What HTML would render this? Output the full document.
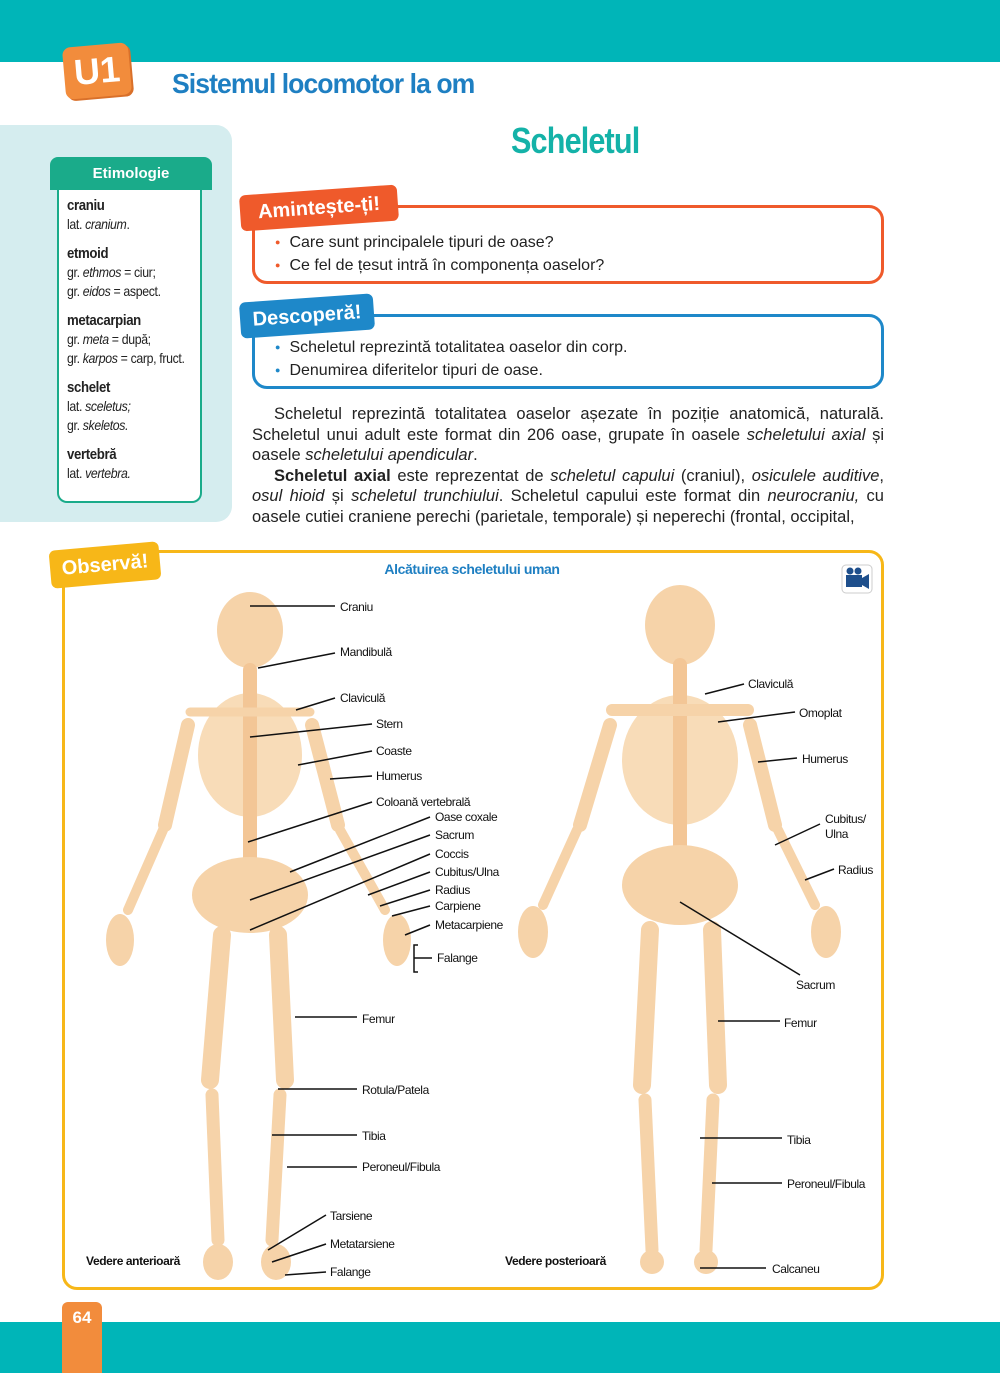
<!DOCTYPE html>
<html><head><meta charset="utf-8"><style>
*{margin:0;padding:0;box-sizing:border-box}
body{width:1000px;height:1373px;position:relative;background:#fff;font-family:"Liberation Sans",sans-serif;overflow:hidden}
.abs{position:absolute}
.cond{font-family:"Liberation Sans Narrow","Liberation Sans",sans-serif}
.ety{font-size:14px;line-height:19px;color:#222;letter-spacing:-0.4px;transform:scaleX(0.88);transform-origin:left top}
.ety b{font-size:15px;display:block}
.ety p{margin-bottom:10px}
.box ul{list-style:none;font-size:16px;line-height:21px;color:#222}
.box li:before{content:"●";font-size:9px;margin-right:9px;position:relative;top:-2px}
.b1 li:before{color:#ef5a2b}.b2 li:before{color:#1e88c9}
.para{font-size:16.5px;line-height:20.6px;color:#222;text-align:justify}
</style></head><body>
<div class="abs" style="left:0;top:0;width:1000px;height:62px;background:#00b5b8"></div>
<div class="abs" style="left:64px;top:45px;width:66px;height:52px;background:#f28c3c;border-radius:8px;transform:rotate(-5deg);color:#fff;font-weight:bold;font-size:36px;text-align:center;line-height:52px;box-shadow:2px 2px 0 #d9702a">U1</div>
<div class="abs cond" style="left:172px;top:68px;font-size:28px;font-weight:bold;color:#1e7fc2;letter-spacing:-1px;transform:scaleX(0.95);transform-origin:left">Sistemul locomotor la om</div>

<div class="abs" style="left:0;top:125px;width:232px;height:397px;background:#d5edef;border-radius:0 16px 16px 0"></div>
<div class="abs" style="left:57px;top:180px;width:145px;height:323px;border:2px solid #1aab8a;border-top:none;border-radius:0 0 10px 10px;background:#fff"></div>
<div class="abs" style="left:50px;top:157px;width:162px;height:33px;background:#1aab8a;border-radius:8px 8px 0 0;color:#fff;font-weight:bold;font-size:15px;text-align:center;line-height:33px">Etimologie</div>
<div class="abs ety cond" style="left:67px;top:196px">
<p><b>craniu</b>lat. <i>cranium</i>.</p>
<p><b>etmoid</b>gr. <i>ethmos</i> = ciur;<br>gr. <i>eidos</i> = aspect.</p>
<p><b>metacarpian</b>gr. <i>meta</i> = după;<br>gr. <i>karpos</i> = carp, fruct.</p>
<p><b>schelet</b>lat. <i>sceletus;</i><br>gr. <i>skeletos.</i></p>
<p><b>vertebră</b>lat. <i>vertebra.</i></p>
</div>

<div class="abs cond" style="left:511px;top:120px;font-size:36px;font-weight:bold;color:#14b2a8;letter-spacing:-1px;transform:scaleX(0.85);transform-origin:left">Scheletul</div>

<div class="abs box b1" style="left:252px;top:205px;width:632px;height:79px;border:3px solid #ef5a2b;border-radius:15px;padding:24px 0 0 20px">
<ul><li>Care sunt principalele tipuri de oase?</li><li>Ce fel de țesut intră în componența oaselor?</li></ul></div>
<div class="abs" style="left:240px;top:190px;width:158px;height:36px;background:#ef5a2b;border-radius:6px;transform:rotate(-4deg);color:#fff;font-weight:bold;font-size:20px;line-height:36px;text-align:center">Amintește-ți!</div>

<div class="abs box b2" style="left:252px;top:314px;width:632px;height:75px;border:3px solid #1e88c9;border-radius:15px;padding:20px 0 0 20px">
<ul><li>Scheletul reprezintă totalitatea oaselor din corp.</li><li>Denumirea diferitelor tipuri de oase.</li></ul></div>
<div class="abs" style="left:240px;top:298px;width:134px;height:36px;background:#1e88c9;border-radius:6px;transform:rotate(-4deg);color:#fff;font-weight:bold;font-size:20px;line-height:36px;text-align:center">Descoperă!</div>

<div class="abs para" style="left:252px;top:404px;width:632px">
<span style="padding-left:22px"></span>Scheletul reprezintă totalitatea oaselor așezate în poziție anatomică, naturală. Scheletul unui adult este format din 206 oase, grupate în oasele <i>scheletului axial</i> și oasele <i>scheletului apendicular</i>.<br>
<span style="padding-left:22px"></span><b>Scheletul axial</b> este reprezentat de <i>scheletul capului</i> (craniul), <i>osiculele auditive</i>, <i>osul hioid</i> și <i>scheletul trunchiului</i>. Scheletul capului este format din <i>neurocraniu,</i> cu oasele cutiei craniene perechi (parietale, temporale) și neperechi (frontal, occipital,
</div>

<div class="abs" style="left:62px;top:550px;width:822px;height:740px;border:3px solid #f7b718;border-radius:15px"></div>
<div class="abs" style="left:50px;top:546px;width:110px;height:38px;background:#f7b718;border-radius:6px;transform:rotate(-5deg);color:#fff;font-weight:bold;font-size:20px;line-height:38px;text-align:center">Observă!</div>

<svg class="abs" style="left:0;top:0" width="1000" height="1373">
<g stroke="#f6d3a9" stroke-linecap="round" fill="#f6d3a9">
<ellipse cx="250" cy="630" rx="33" ry="38" stroke="none"/>
<ellipse cx="250" cy="755" rx="52" ry="62" stroke="none" fill="#f8dcb8"/>
<line x1="250" y1="670" x2="250" y2="880" stroke-width="14" stroke="#f3c696"/>
<ellipse cx="250" cy="895" rx="58" ry="38" stroke="none"/>
<line x1="190" y1="712" x2="310" y2="712" stroke-width="9"/>
<g stroke-width="14"><line x1="188" y1="725" x2="165" y2="825"/><line x1="312" y1="725" x2="338" y2="825"/></g>
<g stroke-width="10"><line x1="163" y1="830" x2="128" y2="910"/><line x1="340" y1="830" x2="385" y2="910"/></g>
<ellipse cx="120" cy="940" rx="14" ry="26" stroke="none"/><ellipse cx="397" cy="940" rx="14" ry="26" stroke="none"/>
<g stroke-width="18"><line x1="222" y1="935" x2="210" y2="1080"/><line x1="278" y1="935" x2="285" y2="1080"/></g>
<g stroke-width="13"><line x1="212" y1="1095" x2="218" y2="1240"/><line x1="280" y1="1095" x2="272" y2="1240"/></g>
<ellipse cx="218" cy="1262" rx="15" ry="18" stroke="none"/><ellipse cx="276" cy="1262" rx="15" ry="18" stroke="none"/>
<ellipse cx="680" cy="625" rx="35" ry="40" stroke="none"/>
<ellipse cx="680" cy="760" rx="58" ry="65" stroke="none" fill="#f8dcb8"/>
<line x1="680" y1="665" x2="680" y2="870" stroke-width="14" stroke="#f3c696"/>
<ellipse cx="680" cy="885" rx="58" ry="40" stroke="none"/>
<line x1="612" y1="710" x2="748" y2="710" stroke-width="12"/>
<g stroke-width="14"><line x1="610" y1="725" x2="580" y2="825"/><line x1="750" y1="725" x2="775" y2="825"/></g>
<g stroke-width="10"><line x1="577" y1="830" x2="543" y2="905"/><line x1="778" y1="830" x2="815" y2="905"/></g>
<ellipse cx="533" cy="932" rx="15" ry="26" stroke="none"/><ellipse cx="826" cy="932" rx="15" ry="26" stroke="none"/>
<g stroke-width="18"><line x1="650" y1="930" x2="642" y2="1085"/><line x1="712" y1="930" x2="718" y2="1085"/></g>
<g stroke-width="13"><line x1="645" y1="1100" x2="652" y2="1250"/><line x1="713" y1="1100" x2="706" y2="1250"/></g>
<ellipse cx="652" cy="1262" rx="12" ry="12" stroke="none"/><ellipse cx="706" cy="1262" rx="12" ry="12" stroke="none"/>
</g>
<g stroke="#111" stroke-width="1.5">
<line x1="250" y1="606" x2="335" y2="606"/><line x1="258" y1="668" x2="335" y2="653"/><line x1="296" y1="710" x2="335" y2="698"/>
<line x1="250" y1="737" x2="372" y2="724"/><line x1="298" y1="765" x2="372" y2="751"/><line x1="330" y1="779" x2="372" y2="776"/>
<line x1="248" y1="842" x2="372" y2="802"/><line x1="290" y1="872" x2="430" y2="817"/><line x1="250" y1="900" x2="430" y2="835"/>
<line x1="250" y1="930" x2="430" y2="854"/><line x1="368" y1="895" x2="430" y2="872"/><line x1="380" y1="906" x2="430" y2="890"/>
<line x1="392" y1="916" x2="430" y2="906"/><line x1="405" y1="935" x2="430" y2="925"/>
<polyline fill="none" points="418,945 414,945 414,972 418,972"/><line x1="414" y1="958" x2="432" y2="958"/>
<line x1="295" y1="1017" x2="357" y2="1017"/><line x1="278" y1="1089" x2="357" y2="1089"/><line x1="272" y1="1135" x2="357" y2="1135"/>
<line x1="287" y1="1167" x2="357" y2="1167"/><line x1="268" y1="1250" x2="326" y2="1215"/><line x1="272" y1="1262" x2="326" y2="1244"/><line x1="285" y1="1275" x2="326" y2="1272"/>
<line x1="705" y1="694" x2="744" y2="684"/><line x1="718" y1="722" x2="795" y2="712"/><line x1="758" y1="762" x2="797" y2="758"/>
<line x1="775" y1="845" x2="820" y2="824"/><line x1="805" y1="880" x2="834" y2="869"/><line x1="680" y1="902" x2="800" y2="975"/>
<line x1="718" y1="1021" x2="780" y2="1021"/><line x1="700" y1="1138" x2="782" y2="1138"/><line x1="712" y1="1183" x2="782" y2="1183"/><line x1="700" y1="1268" x2="766" y2="1268"/>
</g>
<g font-family="Liberation Sans Narrow, Liberation Sans, sans-serif" font-size="12" fill="#111" letter-spacing="-0.4">
<text x="340" y="611">Craniu</text><text x="340" y="656">Mandibulă</text><text x="340" y="702">Claviculă</text>
<text x="376" y="728">Stern</text><text x="376" y="755">Coaste</text><text x="376" y="780">Humerus</text>
<text x="376" y="806">Coloană vertebrală</text><text x="435" y="821">Oase coxale</text><text x="435" y="839">Sacrum</text>
<text x="435" y="858">Coccis</text><text x="435" y="876">Cubitus/Ulna</text><text x="435" y="894">Radius</text>
<text x="435" y="910">Carpiene</text><text x="435" y="929">Metacarpiene</text><text x="437" y="962">Falange</text>
<text x="362" y="1023">Femur</text><text x="362" y="1094">Rotula/Patela</text><text x="362" y="1140">Tibia</text>
<text x="362" y="1171">Peroneul/Fibula</text><text x="330" y="1220">Tarsiene</text><text x="330" y="1248">Metatarsiene</text><text x="330" y="1276">Falange</text>
<text x="748" y="688">Claviculă</text><text x="799" y="717">Omoplat</text><text x="802" y="763">Humerus</text>
<text x="825" y="823">Cubitus/</text><text x="825" y="838">Ulna</text><text x="838" y="874">Radius</text><text x="796" y="989">Sacrum</text>
<text x="784" y="1027">Femur</text><text x="787" y="1144">Tibia</text><text x="787" y="1188">Peroneul/Fibula</text><text x="772" y="1273">Calcaneu</text>
<text x="86" y="1265" font-weight="bold">Vedere anterioară</text><text x="505" y="1265" font-weight="bold">Vedere posterioară</text>
<text x="472" y="574" text-anchor="middle" font-size="14" font-weight="bold" fill="#1e7fc2">Alcătuirea scheletului uman</text>
</g>
<rect x="842" y="565" width="30" height="28" rx="4" fill="#fff" stroke="#ccc"/>
<rect x="846" y="575" width="16" height="12" fill="#1e4f8c"/><polygon points="862,578 869,574 869,589 862,585" fill="#1e4f8c"/>
<circle cx="850" cy="571" r="3.5" fill="#1e4f8c"/><circle cx="858" cy="571" r="3.5" fill="#1e4f8c"/>
</svg>

<div class="abs" style="left:0;top:1322px;width:1000px;height:51px;background:#00b5b8"></div>
<div class="abs" style="left:62px;top:1302px;width:40px;height:71px;background:#f28c3c;border-radius:6px 6px 0 0;color:#fff;font-weight:bold;font-size:17px;text-align:center;padding-top:6px">64</div>
</body></html>
